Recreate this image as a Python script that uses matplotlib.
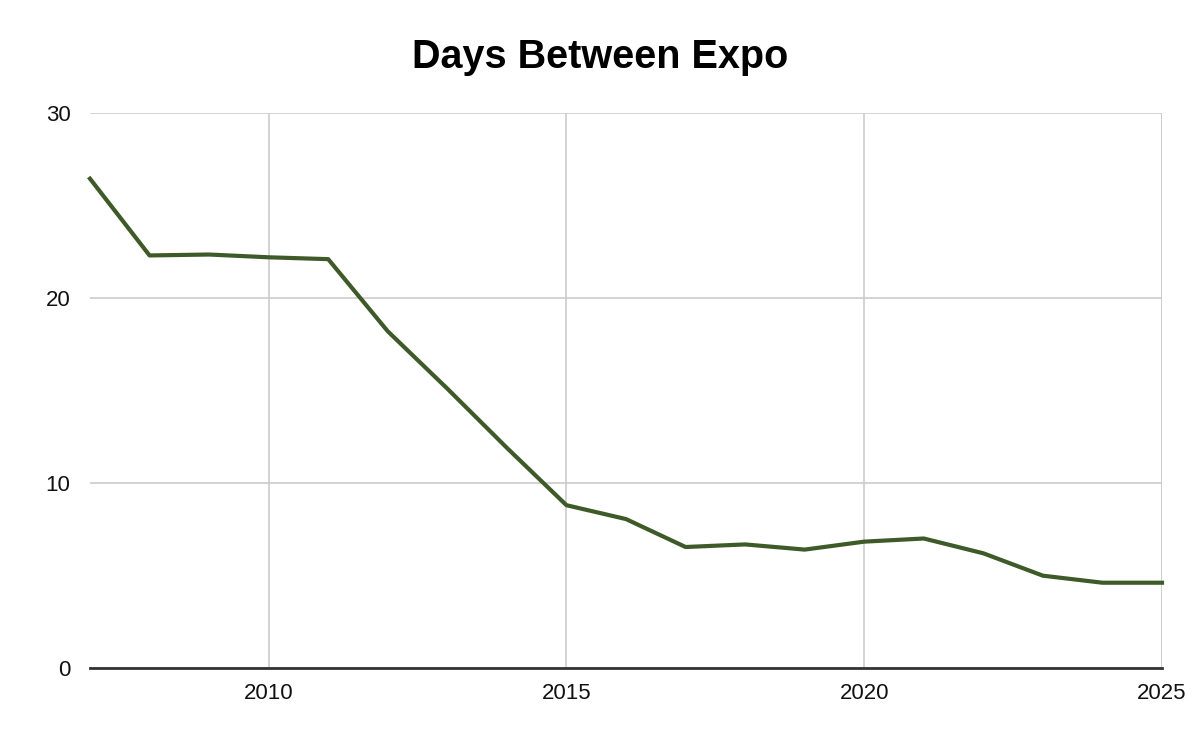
import matplotlib.pyplot as plt

# days between expo
years = [2007, 2008, 2009, 2010, 2011, 2012, 2013, 2014, 2015, 2016,
         2017, 2018, 2019, 2020, 2021, 2022, 2023, 2024, 2025]
days = [26.45, 22.3, 22.35, 22.2, 22.1, 18.2, 15.1, 11.9, 8.8, 8.05,
        6.54, 6.68, 6.4, 6.83, 7.0, 6.2, 4.99, 4.61, 4.61]
xticks = [2010, 2015, 2020, 2025]
yticks = [0, 10, 20, 30]

plt.rcParams['font.family'] = ['Liberation Sans', 'DejaVu Sans']

fig = plt.figure(figsize=(12, 7.42), dpi=100)
ax = fig.add_axes([90/1200, 1 - 668/742, (1162-90)/1200, (668-113)/742])

ax.plot(years, days, color='#3e5a28', linewidth=3, solid_joinstyle='round', clip_on=False, zorder=3)

ax.set_xlim(2007, 2025)
ax.set_ylim(0, 30)
ax.set_xticks(xticks)
ax.set_yticks(yticks)
ax.grid(True, color='#cccccc', linewidth=1.2)
ax.axvline(2025, color='#cccccc', linewidth=1.2)

for s in ['top', 'right', 'left']:
    ax.spines[s].set_visible(False)
ax.spines['bottom'].set_color('#333333')
ax.spines['bottom'].set_linewidth(2)
ax.spines['bottom'].set_zorder(4)

ax.tick_params(length=0, labelsize=16, colors='#111111')
ax.tick_params(axis='x', pad=11)
ax.tick_params(axis='y', pad=14)

fig.text(0.5, 1 - 68/742, 'Days Between Expo', ha='center', va='baseline',
         fontsize=28.5, fontweight='bold', color='#000000')

plt.savefig('out.png')
